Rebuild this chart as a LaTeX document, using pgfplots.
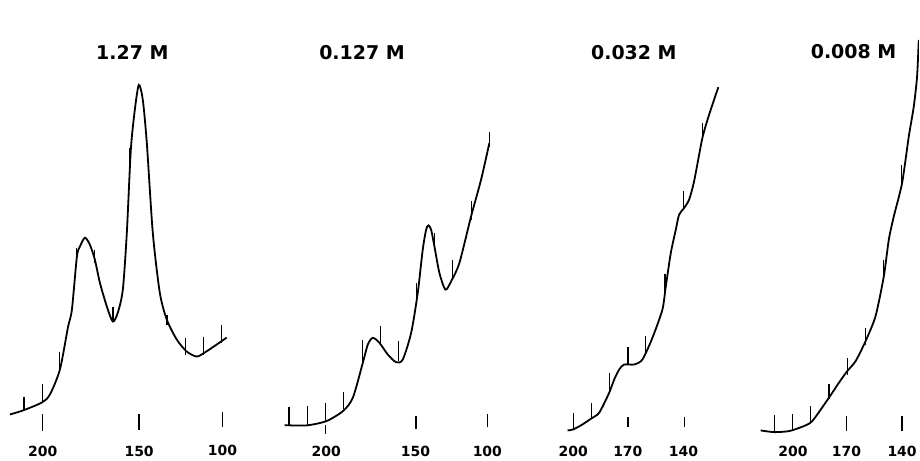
\documentclass[border=0pt]{standalone}
\usepackage{pgfplots}
\pgfplotsset{compat=1.18}
\usepackage{fontspec}
\setmainfont{DejaVu Sans}
\begin{document}
\begin{tikzpicture}
\begin{axis}[
  width=920pt, height=458pt, scale only axis,
  xmin=0, xmax=920, ymin=0, ymax=458, y dir=reverse,
  hide axis, clip mode=individual,
  unbounded coords=jump,
]
\path (axis cs:0,0) rectangle (axis cs:920,458);
% ---- Panel 1 : 1.27 M
\addplot[black, line width=1.8pt, smooth, tension=0.45] coordinates {
(10,415) (23,411) (42,403) (50,395) (60,370) (68,328) (72,310) (77,257)
(80,247) (85,238) (90,245) (95,260) (100,283) (107,307) (113,322) (118,313)
(123,290) (127,233) (131,150) (135,110) (139,85) (143,100) (147,143)
(153,233) (160,293) (167,320) (177,340) (187,352) (197,357) (205,353)
(217,345) (227,338)};
\addplot[black, line width=1.3pt] coordinates {
(24,398) (24,411) (24,nan)
(42.3,385) (42.3,403) (42.3,nan)
(59.3,352) (59.3,370) (59.3,nan)
(76.7,248) (76.7,267) (76.7,nan)
(94.3,250) (94.3,263) (94.3,nan)
(113.3,307) (113.3,322) (113.3,nan)
(130,148) (130,163) (130,nan)
(147.7,143) (147.7,160) (147.7,nan)
(167.3,315) (167.3,325) (167.3,nan)
(186,338) (186,355) (186,nan)
(204,337) (204,355) (204,nan)
(221.7,325) (221.7,343) (221.7,nan)
% axis ticks
(42.7,415) (42.7,432) (42.7,nan)
(139.3,415) (139.3,431) (139.3,nan)
(222.7,413) (222.7,428) (222.7,nan)
};
% ---- Panel 2 : 0.127 M
\addplot[black, line width=1.8pt, smooth, tension=0.45] coordinates {
(285,425.7) (306.7,426) (326.7,421.7) (343.3,411.7) (353.3,398.3)
(363.3,363.3) (368.3,345) (373.3,338.3) (380,343.3) (388.3,355)
(396.7,362.7) (403.3,360) (411.7,333.3) (418.3,293.3) (423.3,250)
(426.7,230) (429,225.7) (431.7,230) (435,246.7) (440,273.3) (446,290)
(451.7,281.7) (460,263.3) (471.7,216.7) (481.7,180) (490,143.3)};
\addplot[black, line width=1.3pt] coordinates {
(289.3,408) (289.3,425.7) (289.3,nan)
(307.7,406.7) (307.7,426) (307.7,nan)
(326,403.3) (326,421.7) (326,nan)
(344.3,392.7) (344.3,410) (344.3,nan)
(363.3,340.7) (363.3,361.7) (363.3,nan)
(381,326) (381,343.3) (381,nan)
(399,341.7) (399,361.7) (399,nan)
(417.3,283.3) (417.3,300) (417.3,nan)
(435,233.3) (435,250) (435,nan)
(453.3,260) (453.3,280) (453.3,nan)
(472,201.7) (472,220) (472,nan)
(490,131.7) (490,146.7) (490,nan)
% axis ticks
(326,426) (326,435) (326,nan)
(416.7,417) (416.7,430) (416.7,nan)
(488.3,415) (488.3,428) (488.3,nan)
};
% ---- Panel 3 : 0.032 M
\addplot[black, line width=1.8pt, smooth, tension=0.4] coordinates {
(568.3,431) (574,430) (583.3,425) (591.7,419.3) (600,413.3) (610,393.3)
(615,380) (620,370) (625,365) (635,365) (643.3,360) (653.3,338.3)
(663.3,310) (666.7,286.7) (671.7,253.3) (676.7,230) (680,215) (685,208.3)
(690,200) (695,181.7) (703.3,138.3) (710,115) (719.3,87.3)};
\addplot[black, line width=1.3pt] coordinates {
(574,414) (574,430) (574,nan)
(592,404) (592,419.3) (592,nan)
(610.3,373.3) (610.3,393.3) (610.3,nan)
(628.7,347.7) (628.7,365) (628.7,nan)
(646.7,336.7) (646.7,353.3) (646.7,nan)
(666,274) (666,293.3) (666,nan)
(684.3,191.7) (684.3,208.3) (684.3,nan)
(703.3,123.3) (703.3,140) (703.3,nan)
% axis ticks
(628.7,418) (628.7,428) (628.7,nan)
(685.3,418) (685.3,428) (685.3,nan)
};
% ---- Panel 4 : 0.008 M
\addplot[black, line width=1.8pt, smooth, tension=0.4] coordinates {
(761.7,431) (775,432.7) (790,431.7) (803.3,427.3) (813.3,421.7)
(830,398.3) (840,383.3) (848.3,371.7) (856.7,361.7) (866.7,341.7)
(876.7,316.7) (885,276.7) (890,240) (895,216.7) (903.3,183.3)
(910,136.7) (915,106.7) (918.3,76.7) (920,40)};
\addplot[black, line width=1.3pt] coordinates {
(775.3,416) (775.3,432.7) (775.3,nan)
(793.3,415) (793.3,431.7) (793.3,nan)
(811.7,406.7) (811.7,422.7) (811.7,nan)
(830,385) (830,400) (830,nan)
(848.3,358.3) (848.3,375) (848.3,nan)
(866.7,328.3) (866.7,345) (866.7,nan)
(885,260) (885,278.3) (885,nan)
(902.7,165) (902.7,185) (902.7,nan)
% axis ticks
(847.7,417) (847.7,432) (847.7,nan)
(903.3,417) (903.3,432) (903.3,nan)
};
% titles
\begin{scope}[every node/.style={font=\fontsize{19}{22}\selectfont\bfseries}]
\node at (axis cs:132.5,53) {1.27 M};
\node at (axis cs:362.5,53) {0.127 M};
\node at (axis cs:634.7,53) {0.032 M};
\node at (axis cs:854.7,52) {0.008 M};
\end{scope}
% tick labels
\begin{scope}[every node/.style={font=\fontsize{14}{16}\selectfont\bfseries}]
\node at (axis cs:42.7,452) {200};
\node at (axis cs:139.3,452) {150};
\node at (axis cs:222.7,451) {100};
\node at (axis cs:326.7,452) {200};
\node at (axis cs:416,452) {150};
\node at (axis cs:488,452) {100};
\node at (axis cs:574,452) {200};
\node at (axis cs:628.7,452) {170};
\node at (axis cs:684.3,452) {140};
\node at (axis cs:794,452) {200};
\node at (axis cs:847.7,452) {170};
\node at (axis cs:903.3,452) {140};
\end{scope}
\end{axis}
\end{tikzpicture}
\end{document}
